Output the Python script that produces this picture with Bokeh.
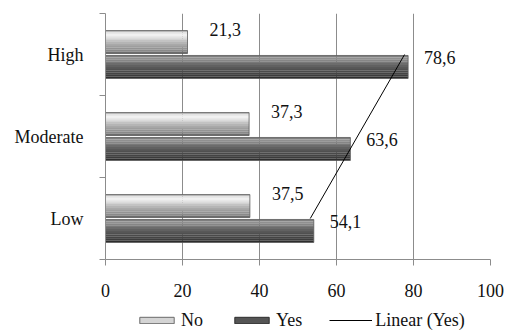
import numpy as np
from bokeh.plotting import figure
from bokeh.layouts import column
from bokeh.models import Range1d, FixedTicker, Legend, LegendItem
from bokeh.embed import file_html
from bokeh.resources import INLINE
from bokeh.core.properties import value

# ---- data ----
categories = ["Low", "Moderate", "High"]
no_values = [37.5, 37.3, 21.3]
yes_values = [54.1, 63.6, 78.6]
no_labels = ["37,5", "37,3", "21,3"]
yes_labels = ["54,1", "63,6", "78,6"]
x_ticks = [0, 20, 40, 60, 80, 100]
series_names = ["No", "Yes", "Linear (Yes)"]

# ---- style ----
FONT = "Liberation Serif"
FS = "18px"
AXIS_GRAY = "#8c8c8c"
NO_SHADES = ["#bdbdbd", "#e8e8e8", "#f0f0f0", "#e2e2e2", "#d2d2d2", "#c3c3c3",
             "#b5b5b5", "#a9a9a9", "#9e9e9e", "#949494", "#8a8a8a", "#6c6c6c"]
YES_SHADES = ["#7e7e7e", "#909090", "#868686", "#787878", "#6c6c6c", "#616161",
              "#585858", "#505050", "#4a4a4a", "#444444", "#3c3c3c", "#2c2c2c"]
BAR_H = 0.28
BAR_OFF = 0.152

centers = [i + 0.5 for i in range(len(categories))]

p = figure(width=508, height=309, x_range=Range1d(0, 100), y_range=Range1d(0, 3),
           output_backend="svg", toolbar_location=None,
           min_border_left=105, min_border_right=18, min_border_top=13, min_border_bottom=50)
p.outline_line_color = None
p.background_fill_color = "white"
p.border_fill_color = "white"


def gradient_bar(values, offset, shades):
    n = len(shades)
    sh = BAR_H / n
    for i, col in enumerate(shades):
        ys = [c + offset + BAR_H / 2 - sh * (i + 0.5) for c in centers]
        p.hbar(y=ys, left=0, right=values, height=sh * 1.02, fill_color=col, line_color=None)
    p.hbar(y=[c + offset for c in centers], left=0, right=values, height=BAR_H,
           fill_color=None, line_color="#5a5a5a", line_width=0.8)


gradient_bar(no_values, BAR_OFF, NO_SHADES)
gradient_bar(yes_values, -BAR_OFF, YES_SHADES)

# value labels
p.text(x=no_values, y=[c + BAR_OFF for c in centers], text=no_labels,
       x_offset=22, y_offset=-13, text_align="left", text_baseline="middle",
       text_font=value(FONT), text_font_size=FS, text_color="#111111")
p.text(x=yes_values, y=[c - BAR_OFF for c in centers], text=yes_labels,
       x_offset=16, y_offset=-9, text_align="left", text_baseline="middle",
       text_font=value(FONT), text_font_size=FS, text_color="#111111")

# linear trend line of Yes
idx = np.arange(1, len(yes_values) + 1)
coef = np.polyfit(idx, yes_values, 1)
trend_x = np.polyval(coef, [idx[0], idx[-1]])
p.line(x=list(trend_x), y=[centers[0], centers[-1]], line_color="black", line_width=1)

# axes
xa = p.xaxis[0]
xa.ticker = FixedTicker(ticks=x_ticks)
xa.axis_line_color = AXIS_GRAY
xa.major_tick_line_color = AXIS_GRAY
xa.major_tick_out = 6
xa.major_tick_in = 0
xa.minor_tick_line_color = None
xa.major_label_standoff = 18
xa.major_label_text_font = FONT
xa.major_label_text_font_size = FS
xa.major_label_text_color = "#111111"

ya = p.yaxis[0]
ya.ticker = FixedTicker(ticks=centers, minor_ticks=[0, 1, 2, 3])
ya.major_label_overrides = {c: name for c, name in zip(centers, categories)}
ya.axis_line_color = AXIS_GRAY
ya.major_tick_line_color = None
ya.major_tick_out = 0
ya.major_tick_in = 0
ya.minor_tick_line_color = AXIS_GRAY
ya.minor_tick_out = 6
ya.minor_tick_in = 0
ya.major_label_standoff = 16
ya.major_label_text_font = FONT
ya.major_label_text_font_size = FS
ya.major_label_text_color = "#111111"

p.xgrid.ticker = FixedTicker(ticks=x_ticks)
p.xgrid.grid_line_color = AXIS_GRAY
p.ygrid.grid_line_color = None

# ---- legend strip (separate small figure below the chart; its frame aligns with p's) ----
lf = figure(width=508, height=22, x_range=Range1d(0, 1), y_range=Range1d(0, 1),
            output_backend="svg", toolbar_location=None,
            x_axis_location=None, y_axis_location=None,
            min_border_left=0, min_border_right=0, min_border_top=0, min_border_bottom=0)
lf.grid.visible = False
lf.outline_line_color = None
# legend sample glyphs: one point each, kept outside the visible range
r_no = lf.hbar(y=[-5], left=[0], right=[0.5], height=0.1, fill_color="#d4d4d4", line_color="#6a6a6a")
r_yes = lf.hbar(y=[-5], left=[0], right=[0.5], height=0.1, fill_color="#555555", line_color="#2e2e2e")
r_line = lf.line(x=[-5, -4], y=[-5, -5], line_color="black", line_width=1)

legend = Legend(items=[LegendItem(label=series_names[0], renderers=[r_no]),
                       LegendItem(label=series_names[1], renderers=[r_yes]),
                       LegendItem(label=series_names[2], renderers=[r_line])],
                orientation="horizontal", location=(30, 0),
                glyph_width=43, glyph_height=8, label_height=22,
                label_text_font=FONT, label_text_font_size=FS, label_text_color="#111111",
                spacing=27, label_standoff=3, padding=0, margin=0,
                border_line_color=None, background_fill_alpha=0)
lf.add_layout(legend)

layout = column(p, lf, spacing=0)
open("out.html", "w").write(file_html(layout, INLINE))
